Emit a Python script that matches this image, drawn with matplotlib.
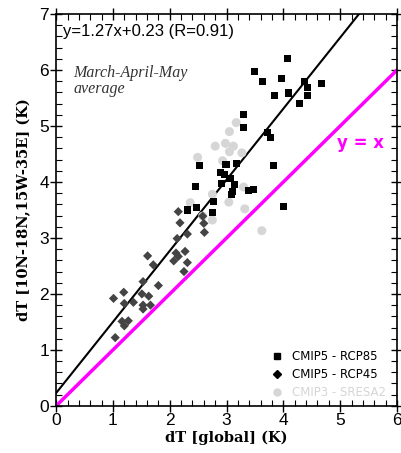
import numpy as np
import matplotlib
matplotlib.use("Agg")
import matplotlib.pyplot as plt
from matplotlib.lines import Line2D
from matplotlib.ticker import MultipleLocator

# ── Data ─────────────────────────────────────────────────────────────────────
rcp85_x = [4.07, 3.49, 3.64, 3.97, 4.37, 4.67, 4.42, 3.84, 4.09, 4.42, 4.28,
           3.30, 3.30, 3.72, 3.77, 2.53, 2.99, 3.17, 3.83, 2.90, 2.97, 3.06,
           2.91, 3.14, 2.46, 3.10, 3.08, 3.39, 3.48, 2.47, 2.32, 2.77, 2.76,
           4.01]
rcp85_y = [6.21, 5.98, 5.80, 5.85, 5.79, 5.76, 5.69, 5.54, 5.59, 5.54, 5.41,
           5.20, 4.97, 4.89, 4.80, 4.30, 4.32, 4.33, 4.29, 4.17, 4.13, 4.06,
           3.98, 3.96, 3.92, 3.83, 3.77, 3.84, 3.86, 3.55, 3.50, 3.65, 3.45,
           3.57]

rcp45_x = [1.04, 1.16, 1.20, 1.27, 1.01, 1.19, 1.20, 1.36, 1.51, 1.63, 1.53,
           1.53, 1.66, 1.53, 1.80, 1.61, 1.71, 2.11, 2.15, 2.27, 2.07, 2.31,
           2.25, 2.13, 2.31, 2.61, 2.15, 2.18, 2.58, 2.60]
rcp45_y = [1.22, 1.51, 1.43, 1.52, 1.92, 2.03, 1.83, 1.85, 2.00, 1.96, 1.80,
           1.73, 1.80, 2.22, 2.15, 2.68, 2.52, 2.73, 2.67, 2.76, 2.59, 2.56,
           2.40, 2.99, 3.07, 3.10, 3.47, 3.27, 3.39, 3.26]

sresa2_x = [3.17, 3.05, 2.80, 2.98, 3.12, 3.05, 3.27, 2.49, 2.93, 3.30, 2.75,
            3.04, 2.36, 3.32, 2.75, 3.62, 2.58]
sresa2_y = [5.06, 4.90, 4.64, 4.69, 4.64, 4.54, 4.52, 4.44, 4.38, 3.91, 3.78,
            3.64, 3.63, 3.52, 3.32, 3.13, 3.39]

fit_slope, fit_icpt = 1.27, 0.23
fit_label = "y=1.27x+0.23 (R=0.91)"
season_label = "March-April-May\naverage"
legend_labels = ["CMIP5 - RCP85", "CMIP5 - RCP45", "CMIP3 - SRESA2"]

# ── Figure ───────────────────────────────────────────────────────────────────
fig = plt.figure(figsize=(4.01, 4.53), dpi=100)
ax = fig.add_axes([0.140, 0.104, 0.850, 0.865])

ax.set_xlim(0, 6)
ax.set_ylim(0, 7)

xx = np.array([0, 6])
ax.plot(xx, fit_slope * xx + fit_icpt, color="black", lw=1.5, zorder=2)
ax.plot(xx, xx, color="#ff00ff", lw=2.5, zorder=2)

ax.scatter(sresa2_x, sresa2_y, marker="o", s=42, color="#d6d6d6",
           edgecolors="none", zorder=3)
ax.scatter(rcp45_x, rcp45_y, marker="D", s=22, color="#444444",
           edgecolors="none", zorder=4)
ax.scatter(rcp85_x, rcp85_y, marker="s", s=26, color="black",
           edgecolors="none", zorder=5)

ax.text(0.12, 6.82, fit_label, fontsize=12, family="Liberation Sans",
        va="top", ha="left")
ax.text(0.30, 6.09, season_label, fontsize=11.5, family="Liberation Serif",
        style="italic", va="top", ha="left", color="#333333", linespacing=1.0)
ax.text(5.36, 4.70, "y = x", fontsize=12, fontweight="bold", color="#ff00ff",
        ha="center", va="center", family="DejaVu Sans")

handles = [
    Line2D([], [], ls="", marker="s", ms=4.5, color="black"),
    Line2D([], [], ls="", marker="D", ms=4.5, color="black"),
    Line2D([], [], ls="", marker="o", ms=5, color="#d6d6d6"),
]
leg = ax.legend(handles, legend_labels, loc="lower right", frameon=False,
                handlelength=0.8, handletextpad=0.9,
                labelspacing=0.4, borderaxespad=0.2,
                bbox_to_anchor=(0.99, 0.0),
                prop={"family": "DejaVu Sans", "size": 8.5})
leg.get_texts()[2].set_color("#d6d6d6")

# ticks
ax.xaxis.set_major_locator(MultipleLocator(1))
ax.yaxis.set_major_locator(MultipleLocator(1))
ax.xaxis.set_minor_locator(MultipleLocator(0.2))
ax.yaxis.set_minor_locator(MultipleLocator(0.2))
ax.tick_params(which="major", direction="inout", length=8, width=1,
               top=True, right=True, labelsize=12.5, pad=1)
ax.tick_params(which="minor", direction="in", length=4, width=0.8,
               top=True, right=True)
for lab in ax.get_xticklabels() + ax.get_yticklabels():
    lab.set_family("Liberation Sans")
for sp in ax.spines.values():
    sp.set_linewidth(1.2)

ax.set_xlabel("dT [global] (K)", fontsize=10.5, fontweight="bold",
              family="DejaVu Serif", labelpad=2)
ax.set_ylabel("dT [10N-18N,15W-35E] (K)", fontsize=10.5, fontweight="bold",
              family="DejaVu Serif", labelpad=6)

fig.savefig("out.png", dpi=100)
